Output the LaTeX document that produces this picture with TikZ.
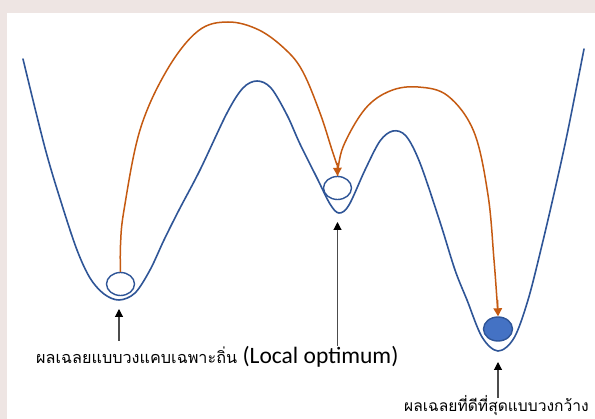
\documentclass[tikz,border=0pt]{standalone}
\usepackage{fontspec}
\usetikzlibrary{arrows.meta,shapes.geometric}
\newfontfamily\thaifont[Script=Thai]{Loma}
\newfontfamily\latfont{Carlito}
\definecolor{curveblue}{HTML}{2F5597}
\definecolor{fillblue}{HTML}{4472C4}
\definecolor{jumporange}{HTML}{C55A11}
\definecolor{wmark}{RGB}{238,229,227}
\tikzset{
  curve/.style={draw=curveblue,line width=1.6pt,line cap=round},
  ball/.style={draw=curveblue,ellipse,line width=1.4pt,inner sep=0pt,minimum width=28pt,minimum height=23pt},
  goodball/.style={ball,fill=fillblue,minimum width=29pt,minimum height=24pt},
  jump/.style={draw=jumporange,line width=1.5pt,-{Triangle[length=8pt,width=8.5pt]}},
  jumpline/.style={draw=jumporange,line width=1.5pt},
  pointer/.style={draw=black!70,line width=1.1pt,-{Triangle[length=8pt,width=8pt,color=black]}},
  lbl/.style={inner sep=0pt,anchor=base west}
}
\begin{document}
\begin{tikzpicture}[x=1pt,y=-1pt]
\useasboundingbox (0,0) rectangle (595,419);
\fill[wmark] (0,0) rectangle (595,419);
\fill[white] (7,13) rectangle (595,419);
% landscape curve
\draw[curve] plot[smooth,tension=0.55] coordinates {
 (23,59) (45,148) (62,205) (77,250) (90,278) (104,294) (119,300) (135,293) (150,270) (164,240)
 (179,210) (200,170) (227,113) (243,88) (257,81) (271,88) (287,115) (300,144)
 (317,178) (330,204) (339,213) (349,205) (365,170) (380,141) (393,131) (406,136)
 (420,163) (440,222) (455,270) (467,300) (482,337) (498,351) (514,338) (528,300)
 (542,245) (556,185) (568,130) (584,49)};
% balls
\node[ball] (lball) at (120.5,284) {};
\node[ball] (mball) at (337.5,188) {};
\node[goodball] (gball) at (498,329) {};
% jumps
\draw[jumpline] plot[smooth,tension=0.6] coordinates {
 (mball.north) (343,147) (365,109) (390,91) (418,87) (448,96) (474,132) (488,195) (494,260) (497,300) (498,313)};
\draw[jump,shorten >=0pt] (497.5,300) -- (gball.north);
\draw[jumpline] plot[smooth,tension=0.6] coordinates {
 (lball.north) (120.5,245) (124,210) (140,130) (167,70) (198,31) (228,22) (259,30) (286,50) (303,72) (320,113) (332,150) (337,165)};
\draw[jump] (337.3,163) -- (mball.north);
% pointers
\coordinate (lp) at (119,341);
\coordinate (mp) at (337.5,346);
\coordinate (gp) at (498,398);
\draw[pointer] (lp) -- (119,309);
\draw[pointer] (mp) -- (337.5,222);
\draw[pointer] (gp) -- (498,362);
% labels
\node[lbl] (llabel) at (36,364) {\thaifont\fontsize{16.2}{18}\selectfont ผลเฉลยแบบวงแคบเฉพาะถิ่น \latfont\fontsize{23.5}{26}\selectfont(Local optimum)};
\node[lbl] (glabel) at (404,411.5) {\thaifont\fontsize{15.6}{17}\selectfont ผลเฉลยที่ดีที่สุดแบบวงกว้าง};
\end{tikzpicture}
\end{document}
